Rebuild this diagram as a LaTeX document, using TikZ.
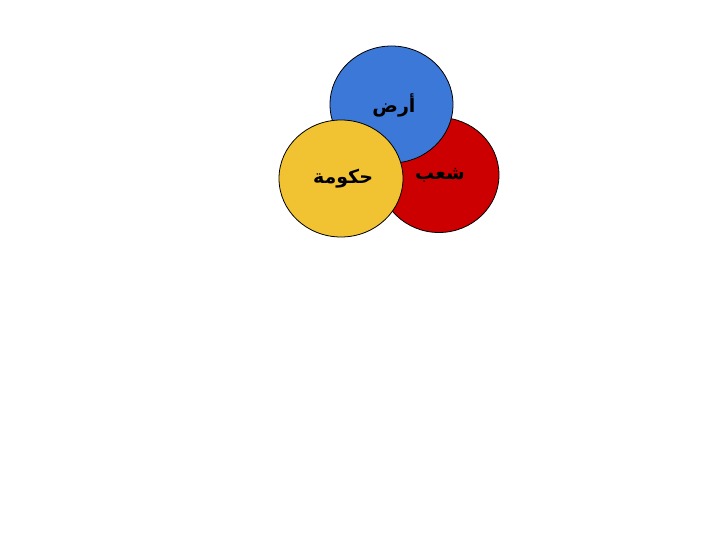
\documentclass[tikz,border=0pt]{standalone}
\usepackage{fontspec}
\newfontfamily\arabicfont[Script=Arabic,BoldFont={DejaVu Sans Bold}]{DejaVu Sans}
\TeXXeTstate=1
\definecolor{cblue}{HTML}{3C78D8}
\definecolor{cred}{HTML}{CC0000}
\definecolor{cyellow}{HTML}{F1C232}
\begin{document}
\begin{tikzpicture}[x=1pt,y=-1pt,
  disc/.style={draw=black,line width=0.8pt},
  lbl/.style={font=\arabicfont\bfseries\fontsize{19}{22}\selectfont,text=black}]
\useasboundingbox (0,0) rectangle (720,540);
\fill[white] (0,0) rectangle (720,540);
\draw[disc,fill=cred] (439,175) ellipse [x radius=60, y radius=57.5];
\draw[disc,fill=cblue] (391.5,104.5) ellipse [x radius=61.5, y radius=58.5];
\draw[disc,fill=cyellow] (341,178.5) ellipse [x radius=62, y radius=58.5];
\node[lbl] (ard) at (394,105) {\beginR أرض\endR};
\node[lbl] (shaab) at (440,175) {\beginR شعب\endR};
\node[lbl] (hukuma) at (343,179) {\beginR حكومة\endR};
\end{tikzpicture}
\end{document}
